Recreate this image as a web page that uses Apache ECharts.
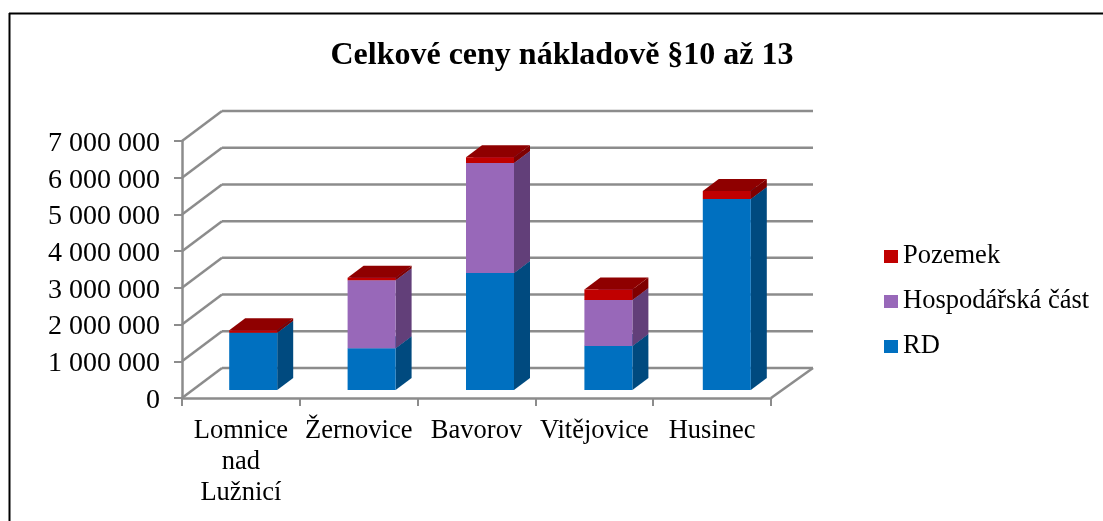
<!DOCTYPE html>
<html>
<head>
<meta charset="utf-8">
<style>
  html, body { margin: 0; padding: 0; background: #fff; }
  #chart { width: 1103px; height: 521px; }
</style>
<script src="https://cdn.jsdelivr.net/npm/echarts@6/dist/echarts.min.js"></script>
</head>
<body>
<div id="chart"></div>
<script>
const categories = ['Lomnice\nnad\nLužnicí', 'Žernovice', 'Bavorov', 'Vitějovice', 'Husinec'];
const rd = [1560000, 1140000, 3190000, 1200000, 5200000];
const hospodarska = [0, 1850000, 2990000, 1250000, 0];
const pozemek = [70000, 70000, 160000, 290000, 220000];
const wallTicks = [0, 1000000, 2000000, 3000000, 4000000, 5000000, 6000000, 7000000];

const FONT = '"Liberation Serif", "Times New Roman", serif';
const GRID_COLOR = '#8c8c8c';
const LINE_W = 2.5;

function fmt(v) {
  return '{t|' + String(v).replace(/\B(?=(\d{3})+$)/g, ' ') + '}';
}

// back wall: diagonal from the front axis, then the line across the wall
function renderWall(params, api) {
  const sys = params.coordSys;
  const y = api.coord([0, api.value(0)])[1];
  const left = sys.x, right = sys.x + sys.width;
  const backX = left + 40, backY = y - 30;
  const style = { stroke: GRID_COLOR, lineWidth: LINE_W, fill: null };
  const children = [
    { type: 'line', shape: { x1: left, y1: y, x2: backX, y2: backY }, style: style },
    { type: 'line', shape: { x1: backX, y1: backY, x2: right + 42, y2: backY }, style: style }
  ];
  if (api.value(0) === 0) {
    children.push({ type: 'line', shape: { x1: right, y1: y, x2: right + 42, y2: backY }, style: style });
  }
  return { type: 'group', children: children };
}

// one stack piece of the 3D column: side, top, front
function barRenderer(front, side, top) {
  return function (params, api) {
    const i = api.value(0), from = api.value(1), to = api.value(2);
    if (to === from) return null;
    const a = api.coord([i, from]), b = api.coord([i, to]);
    const w = 24, dx = 16, dy = 12;
    const l = a[0] - w, r = a[0] + w;
    return {
      type: 'group',
      children: [
        { type: 'polygon', shape: { points: [[r, a[1]], [r + dx, a[1] - dy], [r + dx, b[1] - dy], [r, b[1]]] }, style: { fill: side } },
        { type: 'polygon', shape: { points: [[l, b[1]], [l + dx, b[1] - dy], [r + dx, b[1] - dy], [r, b[1]]] }, style: { fill: top } },
        { type: 'rect', shape: { x: l, y: b[1], width: r - l, height: a[1] - b[1] }, style: { fill: front } }
      ]
    };
  };
}

function stackPiece(values, below) {
  return values.map(function (v, i) {
    return [i, below[i], below[i] + v];
  });
}
const upToRd = rd;
const upToHosp = rd.map(function (v, i) { return v + hospodarska[i]; });

const option = {
  animation: false,
  backgroundColor: '#fff',
  textStyle: { fontFamily: FONT, color: '#000' },
  title: {
    text: 'Celkové ceny nákladově §10 až 13',
    left: 557, top: 35, textAlign: 'center',
    textStyle: { fontFamily: FONT, fontSize: 32, fontWeight: 'bold', color: '#000' }
  },
  legend: {
    left: 884, top: 243,
    padding: 0,
    orient: 'vertical',
    icon: 'rect',
    itemWidth: 14, itemHeight: 13, itemGap: 18,
    data: ['Pozemek', 'Hospodářská část', 'RD'],
    textStyle: { fontFamily: FONT, fontSize: 26.5, color: '#000' }
  },
  graphic: [
    { type: 'line', silent: true, shape: { x1: 9, y1: 13.5, x2: 1103, y2: 13.5 }, style: { stroke: '#000', lineWidth: 2 } },
    { type: 'line', silent: true, shape: { x1: 9.5, y1: 13, x2: 9.5, y2: 521 }, style: { stroke: '#000', lineWidth: 2 } }
  ],
  grid: [
    // front plane of the chart box
    { left: 182, top: 141, width: 589, height: 257 },
    // plane the columns stand on, a little deeper in the box
    { left: 194, top: 133, width: 592, height: 257, show: false }
  ],
  xAxis: [
    {
      gridIndex: 0, type: 'category', data: categories,
      axisLine: { lineStyle: { color: GRID_COLOR, width: LINE_W } },
      axisTick: { show: true, alignWithLabel: false, length: 8, lineStyle: { color: GRID_COLOR, width: 2 } },
      axisLabel: { interval: 0, fontFamily: FONT, fontSize: 26.5, lineHeight: 31, color: '#000', margin: 18 }
    },
    { gridIndex: 1, type: 'category', data: categories, show: false }
  ],
  yAxis: [
    {
      gridIndex: 0, type: 'value', min: 0, max: 7000000, interval: 1000000,
      axisLine: { show: true, lineStyle: { color: GRID_COLOR, width: LINE_W } },
      axisTick: { show: true, length: 8, lineStyle: { color: GRID_COLOR, width: 2 } },
      splitLine: { show: false },
      axisLabel: {
        formatter: fmt, margin: 22,
        rich: { t: { fontFamily: FONT, fontSize: 28, color: '#000', padding: [5, 0, 0, 0] } }
      }
    },
    { gridIndex: 1, type: 'value', min: 0, max: 7000000, show: false, splitLine: { show: false } }
  ],
  series: [
    {
      type: 'custom', name: 'wall', xAxisIndex: 0, yAxisIndex: 0,
      data: wallTicks.map(function (v) { return [v]; }),
      encode: { y: 0 },
      silent: true, z: 1,
      renderItem: renderWall
    },
    {
      type: 'custom', name: 'RD', xAxisIndex: 1, yAxisIndex: 1, z: 3,
      itemStyle: { color: '#0070C0' },
      encode: { x: 0, y: [1, 2] },
      data: stackPiece(rd, rd.map(function () { return 0; })),
      renderItem: barRenderer('#0070C0', '#004A7F', '#00558F')
    },
    {
      type: 'custom', name: 'Hospodářská část', xAxisIndex: 1, yAxisIndex: 1, z: 4,
      itemStyle: { color: '#9868B9' },
      encode: { x: 0, y: [1, 2] },
      data: stackPiece(hospodarska, upToRd),
      renderItem: barRenderer('#9868B9', '#623F79', '#6F4A8A')
    },
    {
      type: 'custom', name: 'Pozemek', xAxisIndex: 1, yAxisIndex: 1, z: 5,
      itemStyle: { color: '#C00000' },
      encode: { x: 0, y: [1, 2] },
      data: stackPiece(pozemek, upToHosp),
      renderItem: barRenderer('#C00000', '#7F0000', '#8F0000')
    }
  ]
};

const chart = echarts.init(document.getElementById('chart'), null, { renderer: 'canvas' });
chart.setOption(option);
</script>
</body>
</html>
